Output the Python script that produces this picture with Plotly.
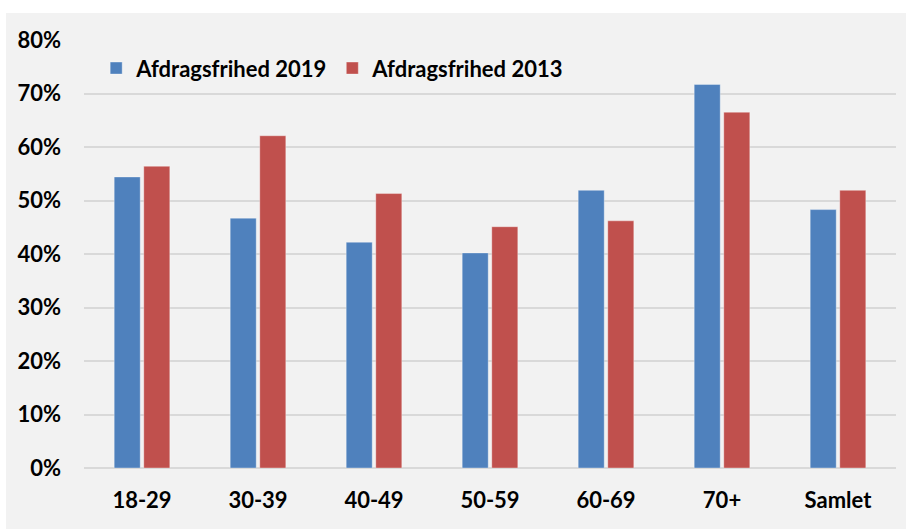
import plotly.graph_objects as go

# Age groups and shares of loans with interest-only periods
categories = ["18-29", "30-39", "40-49", "50-59", "60-69", "70+", "Samlet"]
share_2019 = [54.4, 46.7, 42.2, 40.2, 51.9, 71.7, 48.3]
share_2013 = [56.4, 62.1, 51.3, 45.1, 46.2, 66.5, 51.9]
y_ticks = [0, 10, 20, 30, 40, 50, 60, 70, 80]
y_tick_labels = [f"{v}%" for v in y_ticks]

BLUE = "#4f81bd"
RED = "#c0504d"
PANEL = "#f2f2f2"
GRID = "#d9d9d9"
FONT = "Lato"
SIZE = 22

fig = go.Figure()
fig.add_trace(go.Bar(
    name="Afdragsfrihed 2019", x=categories, y=share_2019,
    marker=dict(color=BLUE, line=dict(color="rgba(255,255,255,0.35)", width=1)),
))
fig.add_trace(go.Bar(
    name="Afdragsfrihed 2013", x=categories, y=share_2013,
    marker=dict(color=RED, line=dict(color="rgba(255,255,255,0.35)", width=1)),
))

# Gray panel behind the whole chart, leaving a thin white margin top-left
fig.add_shape(
    type="rect", xref="paper", yref="paper",
    x0=-0.096, x1=1.02, y0=-0.15, y1=1.063,
    fillcolor=PANEL, line=dict(width=0), layer="below",
)

fig.update_layout(
    width=906, height=529,
    margin=dict(l=84, r=10, t=40, b=61),
    paper_bgcolor="white",
    plot_bgcolor=PANEL,
    barmode="group",
    bargap=0.49,
    bargroupgap=0.12,
    font=dict(family=FONT, size=SIZE, color="black"),
    showlegend=True,
    legend=dict(
        orientation="h", x=0.015, y=0.934, xanchor="left", yanchor="middle",
        bgcolor="rgba(0,0,0,0)",
        font=dict(family=FONT, size=SIZE, color="black", weight="bold"),
        traceorder="normal",
    ),
)
fig.update_xaxes(
    showgrid=False, showline=False, ticks="", ticklabelstandoff=17,
    tickfont=dict(family=FONT, size=SIZE, color="black", weight="bold"),
)
fig.update_yaxes(
    range=[0, 80], tickvals=y_ticks, ticktext=y_tick_labels,
    showgrid=True, gridcolor=GRID, gridwidth=1.5,
    zeroline=True, zerolinecolor=GRID, zerolinewidth=1.5,
    showline=False, ticks="", ticklabelstandoff=22,
    tickfont=dict(family=FONT, size=SIZE, color="black", weight="bold"),
)

fig.write_html("out.html")
